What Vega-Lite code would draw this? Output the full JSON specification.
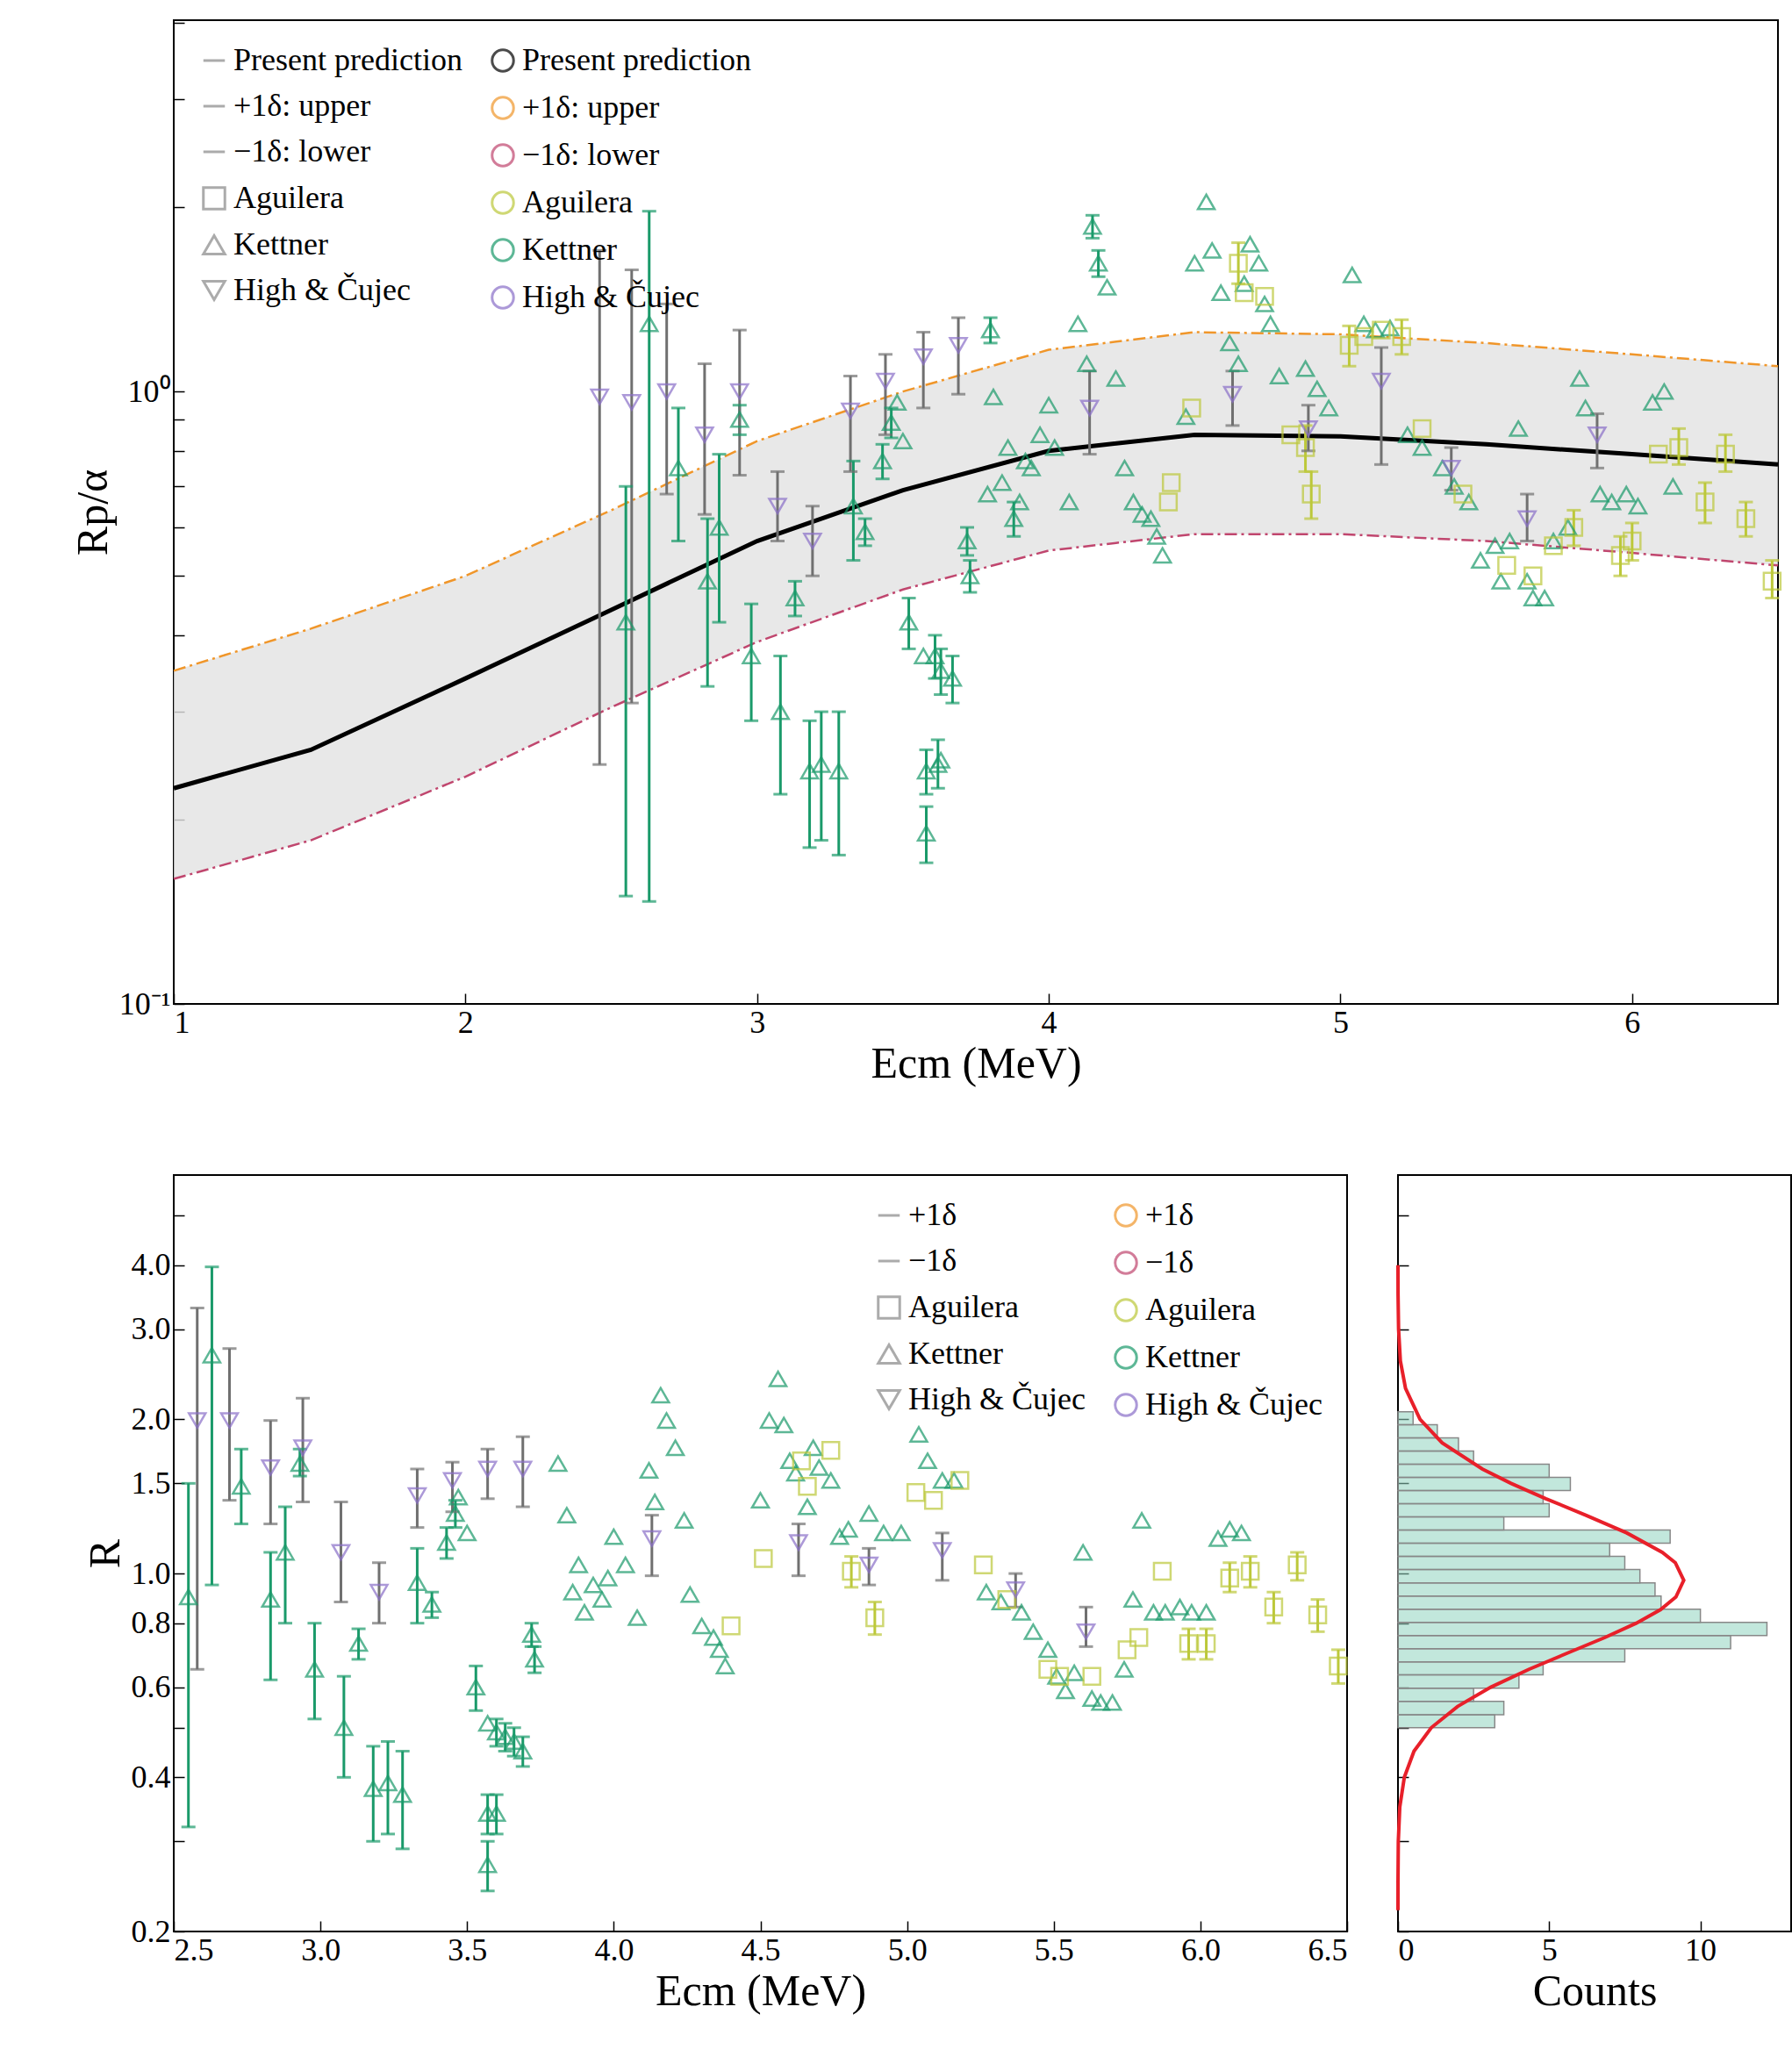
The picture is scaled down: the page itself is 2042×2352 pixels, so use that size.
{
"$schema":"https://vega.github.io/schema/vega-lite/v6.json",
"padding":{"left":80,"top":22,"right":10,"bottom":5},
"config":{"font":"Liberation Serif","view":{"stroke":"black","strokeWidth":2},
"axis":{"grid":false,"domainColor":"black","tickColor":"black","labelColor":"black","titleColor":"black","labelFontSize":36,"titleFontSize":50,"titleFontWeight":"normal","tickSize":-12,"labelPadding":16,"tickWidth":1.5},
"legend":{"labelFontSize":36,"title":null,"symbolStrokeWidth":3,"rowPadding":16,"symbolSize":600,"labelLimit":500,"padding":10}},
"resolve":{"scale":{"color":"independent","shape":"independent"},"legend":{"color":"independent","shape":"independent"}},
"datasets":{
"pred":[{"E":1,"p":0.225,"u":0.35,"l":0.16},{"E":1.47,"p":0.26,"u":0.41,"l":0.185},{"E":2,"p":0.34,"u":0.5,"l":0.235},{"E":2.5,"p":0.44,"u":0.64,"l":0.305},{"E":3,"p":0.57,"u":0.83,"l":0.39},{"E":3.5,"p":0.69,"u":1.0,"l":0.475},{"E":4,"p":0.8,"u":1.17,"l":0.55},{"E":4.5,"p":0.85,"u":1.25,"l":0.585},{"E":5,"p":0.845,"u":1.24,"l":0.585},{"E":5.5,"p":0.82,"u":1.2,"l":0.57},{"E":6,"p":0.79,"u":1.15,"l":0.545},{"E":6.5,"p":0.76,"u":1.1,"l":0.52}],
"apts":[
{"s":"Kettner","E":2.63,"y":1.29,"lo":0.147,"hi":1.97},{"s":"Kettner","E":2.55,"y":0.42,"lo":0.15,"hi":0.7},{"s":"Kettner","E":2.73,"y":0.75,"lo":0.57,"hi":0.94},{"s":"Kettner","E":2.83,"y":0.49,"lo":0.33,"hi":0.62},{"s":"Kettner","E":2.87,"y":0.6,"lo":0.42,"hi":0.79},{"s":"Kettner","E":2.94,"y":0.9,"lo":0.85,"hi":0.95},{"s":"Kettner","E":2.98,"y":0.37,"lo":0.29,"hi":0.45},{"s":"Kettner","E":3.08,"y":0.3,"lo":0.22,"hi":0.37},{"s":"Kettner","E":3.13,"y":0.46,"lo":0.43,"hi":0.49},{"s":"Kettner","E":3.18,"y":0.24,"lo":0.18,"hi":0.29},{"s":"Kettner","E":3.22,"y":0.246,"lo":0.185,"hi":0.3},{"s":"Kettner","E":3.28,"y":0.24,"lo":0.175,"hi":0.3},{"s":"Kettner","E":3.33,"y":0.65,"lo":0.53,"hi":0.77},{"s":"Kettner","E":3.37,"y":0.59,"lo":0.56,"hi":0.62},{"s":"Kettner","E":3.43,"y":0.77,"lo":0.72,"hi":0.82},{"s":"Kettner","E":3.46,"y":0.89,"lo":0.84,"hi":0.94},{"s":"Kettner","E":3.48,"y":0.96},{"s":"Kettner","E":3.5,"y":0.83},{"s":"Kettner","E":3.52,"y":0.42,"lo":0.38,"hi":0.46},{"s":"Kettner","E":3.57,"y":0.37},{"s":"Kettner","E":3.61,"y":0.37,"lo":0.34,"hi":0.4},{"s":"Kettner","E":3.63,"y":0.35,"lo":0.32,"hi":0.38},{"s":"Kettner","E":3.67,"y":0.34,"lo":0.31,"hi":0.37},{"s":"Kettner","E":3.58,"y":0.24,"lo":0.22,"hi":0.26},{"s":"Kettner","E":3.62,"y":0.246,"lo":0.225,"hi":0.27},{"s":"Kettner","E":3.58,"y":0.19,"lo":0.17,"hi":0.21},{"s":"Kettner","E":3.63,"y":0.25},{"s":"Kettner","E":3.72,"y":0.57,"lo":0.54,"hi":0.6},{"s":"Kettner","E":3.73,"y":0.5,"lo":0.47,"hi":0.53},{"s":"Kettner","E":3.79,"y":0.68},{"s":"Kettner","E":3.8,"y":1.26,"lo":1.2,"hi":1.32},{"s":"Kettner","E":3.81,"y":0.98},{"s":"Kettner","E":3.84,"y":0.71},{"s":"Kettner","E":3.86,"y":0.81},{"s":"Kettner","E":3.88,"y":0.62,"lo":0.58,"hi":0.66},{"s":"Kettner","E":3.9,"y":0.66},{"s":"Kettner","E":3.92,"y":0.77},{"s":"Kettner","E":3.94,"y":0.75},{"s":"Kettner","E":3.97,"y":0.85},{"s":"Kettner","E":4.0,"y":0.95},{"s":"Kettner","E":4.02,"y":0.81},{"s":"Kettner","E":4.07,"y":0.66},{"s":"Kettner","E":4.1,"y":1.29},{"s":"Kettner","E":4.13,"y":1.11},{"s":"Kettner","E":4.15,"y":1.86,"lo":1.78,"hi":1.94},{"s":"Kettner","E":4.17,"y":1.62,"lo":1.54,"hi":1.7},{"s":"Kettner","E":4.2,"y":1.48},{"s":"Kettner","E":4.23,"y":1.05},{"s":"Kettner","E":4.26,"y":0.75},{"s":"Kettner","E":4.29,"y":0.66},{"s":"Kettner","E":4.32,"y":0.63},{"s":"Kettner","E":4.35,"y":0.62},{"s":"Kettner","E":4.37,"y":0.58},{"s":"Kettner","E":4.39,"y":0.54},{"s":"Kettner","E":4.47,"y":0.91},{"s":"Kettner","E":4.5,"y":1.62},{"s":"Kettner","E":4.54,"y":2.04},{"s":"Kettner","E":4.56,"y":1.7},{"s":"Kettner","E":4.59,"y":1.45},{"s":"Kettner","E":4.62,"y":1.2},{"s":"Kettner","E":4.65,"y":1.11},{"s":"Kettner","E":4.67,"y":1.5},{"s":"Kettner","E":4.69,"y":1.74},{"s":"Kettner","E":4.72,"y":1.62},{"s":"Kettner","E":4.74,"y":1.39},{"s":"Kettner","E":4.76,"y":1.29},{"s":"Kettner","E":4.79,"y":1.06},{"s":"Kettner","E":4.88,"y":1.09},{"s":"Kettner","E":4.92,"y":1.01},{"s":"Kettner","E":4.96,"y":0.94},{"s":"Kettner","E":5.04,"y":1.55},{"s":"Kettner","E":5.08,"y":1.29},{"s":"Kettner","E":5.12,"y":1.26},{"s":"Kettner","E":5.17,"y":1.27},{"s":"Kettner","E":5.23,"y":0.85},{"s":"Kettner","E":5.28,"y":0.81},{"s":"Kettner","E":5.35,"y":0.75},{"s":"Kettner","E":5.39,"y":0.7},{"s":"Kettner","E":5.44,"y":0.66},{"s":"Kettner","E":5.48,"y":0.53},{"s":"Kettner","E":5.53,"y":0.56},{"s":"Kettner","E":5.55,"y":0.49},{"s":"Kettner","E":5.58,"y":0.57},{"s":"Kettner","E":5.61,"y":0.87},{"s":"Kettner","E":5.64,"y":0.49},{"s":"Kettner","E":5.66,"y":0.46},{"s":"Kettner","E":5.7,"y":0.46},{"s":"Kettner","E":5.73,"y":0.57},{"s":"Kettner","E":5.78,"y":0.6},{"s":"Kettner","E":5.82,"y":1.05},{"s":"Kettner","E":5.84,"y":0.94},{"s":"Kettner","E":5.89,"y":0.68},{"s":"Kettner","E":5.93,"y":0.66},{"s":"Kettner","E":5.98,"y":0.68},{"s":"Kettner","E":6.02,"y":0.65},{"s":"Kettner","E":6.07,"y":0.96},{"s":"Kettner","E":6.11,"y":1.0},{"s":"Kettner","E":6.14,"y":0.7},
{"s":"Aguilera","E":4.41,"y":0.66},{"s":"Aguilera","E":4.42,"y":0.71},{"s":"Aguilera","E":4.49,"y":0.94},{"s":"Aguilera","E":4.65,"y":1.62,"lo":1.5,"hi":1.75},{"s":"Aguilera","E":4.67,"y":1.45},{"s":"Aguilera","E":4.74,"y":1.43},{"s":"Aguilera","E":4.83,"y":0.85},{"s":"Aguilera","E":4.88,"y":0.81,"lo":0.74,"hi":0.88},{"s":"Aguilera","E":4.9,"y":0.68,"lo":0.62,"hi":0.74},{"s":"Aguilera","E":5.03,"y":1.19,"lo":1.1,"hi":1.28},{"s":"Aguilera","E":5.08,"y":1.23},{"s":"Aguilera","E":5.14,"y":1.26},{"s":"Aguilera","E":5.21,"y":1.23,"lo":1.15,"hi":1.31},{"s":"Aguilera","E":5.28,"y":0.87},{"s":"Aguilera","E":5.42,"y":0.68},{"s":"Aguilera","E":5.57,"y":0.52},{"s":"Aguilera","E":5.66,"y":0.5},{"s":"Aguilera","E":5.73,"y":0.56},{"s":"Aguilera","E":5.8,"y":0.6,"lo":0.56,"hi":0.64},{"s":"Aguilera","E":5.96,"y":0.54,"lo":0.5,"hi":0.58},{"s":"Aguilera","E":6.0,"y":0.57,"lo":0.53,"hi":0.61},{"s":"Aguilera","E":6.09,"y":0.79},{"s":"Aguilera","E":6.16,"y":0.81,"lo":0.76,"hi":0.87},{"s":"Aguilera","E":6.25,"y":0.66,"lo":0.61,"hi":0.71},{"s":"Aguilera","E":6.32,"y":0.79,"lo":0.74,"hi":0.85},{"s":"Aguilera","E":6.39,"y":0.62,"lo":0.58,"hi":0.66},{"s":"Aguilera","E":6.48,"y":0.49,"lo":0.46,"hi":0.53},
{"s":"High & Čujec","E":2.46,"y":0.98,"lo":0.246,"hi":1.7},{"s":"High & Čujec","E":2.57,"y":0.96,"lo":0.31,"hi":1.58},{"s":"High & Čujec","E":2.69,"y":1.0,"lo":0.68,"hi":1.39},{"s":"High & Čujec","E":2.82,"y":0.85,"lo":0.63,"hi":1.11},{"s":"High & Čujec","E":2.94,"y":1.0,"lo":0.73,"hi":1.26},{"s":"High & Čujec","E":3.07,"y":0.65,"lo":0.57,"hi":0.74},{"s":"High & Čujec","E":3.19,"y":0.57,"lo":0.5,"hi":0.65},{"s":"High & Čujec","E":3.32,"y":0.93,"lo":0.74,"hi":1.06},{"s":"High & Čujec","E":3.44,"y":1.04,"lo":0.85,"hi":1.15},{"s":"High & Čujec","E":3.57,"y":1.14,"lo":0.94,"hi":1.25},{"s":"High & Čujec","E":3.69,"y":1.19,"lo":0.99,"hi":1.32},{"s":"High & Čujec","E":4.14,"y":0.94,"lo":0.79,"hi":1.08},{"s":"High & Čujec","E":4.63,"y":0.99,"lo":0.88,"hi":1.08},{"s":"High & Čujec","E":4.89,"y":0.87,"lo":0.8,"hi":0.95},{"s":"High & Čujec","E":5.14,"y":1.04,"lo":0.76,"hi":1.18},{"s":"High & Čujec","E":5.38,"y":0.75,"lo":0.69,"hi":0.81},{"s":"High & Čujec","E":5.64,"y":0.62,"lo":0.57,"hi":0.68},{"s":"High & Čujec","E":5.88,"y":0.85,"lo":0.75,"hi":0.92}],
"bpts":[
{"s":"Kettner","E":2.55,"R":0.9,"lo":0.32,"hi":1.5},{"s":"Kettner","E":2.63,"R":2.67,"lo":0.95,"hi":3.97},{"s":"Kettner","E":2.73,"R":1.48,"lo":1.25,"hi":1.75},{"s":"Kettner","E":2.83,"R":0.89,"lo":0.62,"hi":1.1},{"s":"Kettner","E":2.88,"R":1.1,"lo":0.8,"hi":1.35},{"s":"Kettner","E":2.93,"R":1.64,"lo":1.55,"hi":1.75},{"s":"Kettner","E":2.98,"R":0.65,"lo":0.52,"hi":0.8},{"s":"Kettner","E":3.08,"R":0.5,"lo":0.4,"hi":0.63},{"s":"Kettner","E":3.13,"R":0.73,"lo":0.68,"hi":0.78},{"s":"Kettner","E":3.18,"R":0.38,"lo":0.3,"hi":0.46},{"s":"Kettner","E":3.23,"R":0.39,"lo":0.31,"hi":0.47},{"s":"Kettner","E":3.28,"R":0.37,"lo":0.29,"hi":0.45},{"s":"Kettner","E":3.33,"R":0.96,"lo":0.8,"hi":1.12},{"s":"Kettner","E":3.38,"R":0.87,"lo":0.82,"hi":0.92},{"s":"Kettner","E":3.43,"R":1.15,"lo":1.07,"hi":1.23},{"s":"Kettner","E":3.46,"R":1.31,"lo":1.23,"hi":1.39},{"s":"Kettner","E":3.47,"R":1.41},{"s":"Kettner","E":3.5,"R":1.2},{"s":"Kettner","E":3.53,"R":0.6,"lo":0.54,"hi":0.66},{"s":"Kettner","E":3.57,"R":0.51},{"s":"Kettner","E":3.6,"R":0.49,"lo":0.46,"hi":0.52},{"s":"Kettner","E":3.63,"R":0.48,"lo":0.45,"hi":0.51},{"s":"Kettner","E":3.66,"R":0.47,"lo":0.44,"hi":0.5},{"s":"Kettner","E":3.57,"R":0.34,"lo":0.31,"hi":0.37},{"s":"Kettner","E":3.6,"R":0.34,"lo":0.31,"hi":0.37},{"s":"Kettner","E":3.57,"R":0.27,"lo":0.24,"hi":0.3},{"s":"Kettner","E":3.69,"R":0.45,"lo":0.42,"hi":0.48},{"s":"Kettner","E":3.72,"R":0.76,"lo":0.72,"hi":0.8},{"s":"Kettner","E":3.73,"R":0.68,"lo":0.64,"hi":0.72},{"s":"Kettner","E":3.81,"R":1.64},{"s":"Kettner","E":3.84,"R":1.3},{"s":"Kettner","E":3.86,"R":0.92},{"s":"Kettner","E":3.88,"R":1.04},{"s":"Kettner","E":3.9,"R":0.84},{"s":"Kettner","E":3.93,"R":0.95},{"s":"Kettner","E":3.96,"R":0.89},{"s":"Kettner","E":3.98,"R":0.98},{"s":"Kettner","E":4.0,"R":1.18},{"s":"Kettner","E":4.04,"R":1.04},{"s":"Kettner","E":4.08,"R":0.82},{"s":"Kettner","E":4.12,"R":1.59},{"s":"Kettner","E":4.14,"R":1.38},{"s":"Kettner","E":4.16,"R":2.23},{"s":"Kettner","E":4.18,"R":1.99},{"s":"Kettner","E":4.21,"R":1.76},{"s":"Kettner","E":4.24,"R":1.27},{"s":"Kettner","E":4.26,"R":0.91},{"s":"Kettner","E":4.3,"R":0.79},{"s":"Kettner","E":4.34,"R":0.75},{"s":"Kettner","E":4.36,"R":0.71},{"s":"Kettner","E":4.38,"R":0.66},{"s":"Kettner","E":4.5,"R":1.39},{"s":"Kettner","E":4.53,"R":1.99},{"s":"Kettner","E":4.56,"R":2.4},{"s":"Kettner","E":4.58,"R":1.95},{"s":"Kettner","E":4.6,"R":1.66},{"s":"Kettner","E":4.62,"R":1.57},{"s":"Kettner","E":4.66,"R":1.35},{"s":"Kettner","E":4.68,"R":1.76},{"s":"Kettner","E":4.7,"R":1.61},{"s":"Kettner","E":4.74,"R":1.52},{"s":"Kettner","E":4.77,"R":1.18},{"s":"Kettner","E":4.8,"R":1.22},{"s":"Kettner","E":4.87,"R":1.31},{"s":"Kettner","E":4.92,"R":1.2},{"s":"Kettner","E":4.98,"R":1.2},{"s":"Kettner","E":5.04,"R":1.87},{"s":"Kettner","E":5.07,"R":1.66},{"s":"Kettner","E":5.12,"R":1.52},{"s":"Kettner","E":5.16,"R":1.52},{"s":"Kettner","E":5.27,"R":0.92},{"s":"Kettner","E":5.32,"R":0.88},{"s":"Kettner","E":5.39,"R":0.84},{"s":"Kettner","E":5.43,"R":0.77},{"s":"Kettner","E":5.48,"R":0.71},{"s":"Kettner","E":5.51,"R":0.63},{"s":"Kettner","E":5.54,"R":0.59},{"s":"Kettner","E":5.57,"R":0.64},{"s":"Kettner","E":5.6,"R":1.1},{"s":"Kettner","E":5.63,"R":0.57},{"s":"Kettner","E":5.66,"R":0.56},{"s":"Kettner","E":5.7,"R":0.56},{"s":"Kettner","E":5.74,"R":0.65},{"s":"Kettner","E":5.77,"R":0.89},{"s":"Kettner","E":5.8,"R":1.27},{"s":"Kettner","E":5.84,"R":0.84},{"s":"Kettner","E":5.88,"R":0.84},{"s":"Kettner","E":5.93,"R":0.86},{"s":"Kettner","E":5.97,"R":0.84},{"s":"Kettner","E":6.02,"R":0.84},{"s":"Kettner","E":6.06,"R":1.17},{"s":"Kettner","E":6.1,"R":1.22},{"s":"Kettner","E":6.14,"R":1.2},
{"s":"Aguilera","E":4.4,"R":0.79},{"s":"Aguilera","E":4.51,"R":1.07},{"s":"Aguilera","E":4.64,"R":1.66},{"s":"Aguilera","E":4.66,"R":1.48},{"s":"Aguilera","E":4.74,"R":1.74},{"s":"Aguilera","E":4.81,"R":1.01,"lo":0.94,"hi":1.08},{"s":"Aguilera","E":4.89,"R":0.82,"lo":0.76,"hi":0.88},{"s":"Aguilera","E":5.03,"R":1.44},{"s":"Aguilera","E":5.09,"R":1.39},{"s":"Aguilera","E":5.18,"R":1.52},{"s":"Aguilera","E":5.26,"R":1.04},{"s":"Aguilera","E":5.34,"R":0.89},{"s":"Aguilera","E":5.48,"R":0.65},{"s":"Aguilera","E":5.52,"R":0.63},{"s":"Aguilera","E":5.63,"R":0.63},{"s":"Aguilera","E":5.75,"R":0.71},{"s":"Aguilera","E":5.79,"R":0.75},{"s":"Aguilera","E":5.87,"R":1.01},{"s":"Aguilera","E":5.96,"R":0.73,"lo":0.68,"hi":0.78},{"s":"Aguilera","E":6.02,"R":0.73,"lo":0.68,"hi":0.78},{"s":"Aguilera","E":6.1,"R":0.98,"lo":0.92,"hi":1.05},{"s":"Aguilera","E":6.17,"R":1.01,"lo":0.94,"hi":1.08},{"s":"Aguilera","E":6.25,"R":0.86,"lo":0.8,"hi":0.92},{"s":"Aguilera","E":6.33,"R":1.04,"lo":0.97,"hi":1.1},{"s":"Aguilera","E":6.4,"R":0.83,"lo":0.77,"hi":0.89},{"s":"Aguilera","E":6.47,"R":0.66,"lo":0.61,"hi":0.71},
{"s":"High & Čujec","E":2.58,"R":1.99,"lo":0.65,"hi":3.3},{"s":"High & Čujec","E":2.69,"R":1.99,"lo":1.39,"hi":2.75},{"s":"High & Čujec","E":2.83,"R":1.61,"lo":1.25,"hi":1.99},{"s":"High & Čujec","E":2.94,"R":1.76,"lo":1.38,"hi":2.2},{"s":"High & Čujec","E":3.07,"R":1.1,"lo":0.88,"hi":1.38},{"s":"High & Čujec","E":3.2,"R":0.92,"lo":0.8,"hi":1.05},{"s":"High & Čujec","E":3.33,"R":1.42,"lo":1.23,"hi":1.6},{"s":"High & Čujec","E":3.45,"R":1.52,"lo":1.32,"hi":1.65},{"s":"High & Čujec","E":3.57,"R":1.6,"lo":1.4,"hi":1.75},{"s":"High & Čujec","E":3.69,"R":1.6,"lo":1.35,"hi":1.85},{"s":"High & Čujec","E":4.13,"R":1.17,"lo":0.99,"hi":1.3},{"s":"High & Čujec","E":4.63,"R":1.15,"lo":0.99,"hi":1.25},{"s":"High & Čujec","E":4.87,"R":1.04,"lo":0.95,"hi":1.12},{"s":"High & Čujec","E":5.12,"R":1.11,"lo":0.97,"hi":1.2},{"s":"High & Čujec","E":5.37,"R":0.93,"lo":0.86,"hi":1.0},{"s":"High & Čujec","E":5.61,"R":0.77,"lo":0.72,"hi":0.86}],
"hist":[{"lo":0.5,"hi":0.53,"c":3.2},{"lo":0.53,"hi":0.563,"c":3.5},{"lo":0.563,"hi":0.597,"c":2.5},{"lo":0.597,"hi":0.634,"c":4},{"lo":0.634,"hi":0.672,"c":4.8},{"lo":0.672,"hi":0.713,"c":7.5},{"lo":0.713,"hi":0.757,"c":11},{"lo":0.757,"hi":0.803,"c":12.2},{"lo":0.803,"hi":0.852,"c":10},{"lo":0.852,"hi":0.904,"c":8.7},{"lo":0.904,"hi":0.959,"c":8.5},{"lo":0.959,"hi":1.018,"c":8},{"lo":1.018,"hi":1.08,"c":7.5},{"lo":1.08,"hi":1.146,"c":7},{"lo":1.146,"hi":1.216,"c":9},{"lo":1.216,"hi":1.29,"c":3.5},{"lo":1.29,"hi":1.369,"c":5},{"lo":1.369,"hi":1.453,"c":4.8},{"lo":1.453,"hi":1.541,"c":5.7},{"lo":1.541,"hi":1.635,"c":5},{"lo":1.635,"hi":1.735,"c":2.5},{"lo":1.735,"hi":1.841,"c":2},{"lo":1.841,"hi":1.953,"c":1.3},{"lo":1.953,"hi":2.07,"c":0.5}],
"gauss":[{"R":0.22,"c":0},{"R":0.25,"c":0.001},{"R":0.3,"c":0.011},{"R":0.35,"c":0.06},{"R":0.4,"c":0.21},{"R":0.45,"c":0.53},{"R":0.5,"c":1.1},{"R":0.55,"c":1.97},{"R":0.6,"c":3.07},{"R":0.65,"c":4.33},{"R":0.7,"c":5.62},{"R":0.75,"c":6.84},{"R":0.8,"c":7.88},{"R":0.85,"c":8.68},{"R":0.9,"c":9.19},{"R":0.97,"c":9.45},{"R":1.05,"c":9.17},{"R":1.1,"c":8.74},{"R":1.2,"c":7.57},{"R":1.3,"c":6.21},{"R":1.4,"c":4.89},{"R":1.5,"c":3.74},{"R":1.6,"c":2.79},{"R":1.8,"c":1.46},{"R":2.0,"c":0.73},{"R":2.3,"c":0.25},{"R":2.6,"c":0.08},{"R":3.0,"c":0.02},{"R":3.5,"c":0.003},{"R":4.0,"c":0}]
},
"vconcat":[
{"width":1828,"height":1121,
"resolve":{"scale":{"color":"independent"}},
"layer":[
{"data":{"name":"pred"},"mark":{"type":"area","color":"#e2e2e2","opacity":0.8},"encoding":{"x":{"field":"E","type":"quantitative","scale":{"domain":[1,6.5],"nice":false,"zero":false},"axis":{"values":[1,2,3,4,5,6],"format":"d","title":"Ecm (MeV)"}},"y":{"field":"l","type":"quantitative","scale":{"type":"log","domain":[0.1,4.04],"nice":false},"axis":{"values":[0.1,0.2,0.3,0.4,0.5,0.6,0.7,0.8,0.9,1,2,3,4],"labelExpr":"datum.value==1?'10⁰':(datum.value==0.1?'10⁻¹':'')","title":"Rp/α"}},"y2":{"field":"u"}}},
{"data":{"name":"pred"},"mark":{"type":"line","color":"#f0962a","strokeWidth":2.5,"strokeDash":[14,5,3,5]},"encoding":{"x":{"field":"E","type":"quantitative"},"y":{"field":"u","type":"quantitative"}}},
{"data":{"name":"pred"},"mark":{"type":"line","color":"#c0466e","strokeWidth":2.5,"strokeDash":[14,5,3,5]},"encoding":{"x":{"field":"E","type":"quantitative"},"y":{"field":"l","type":"quantitative"}}},
{"data":{"name":"pred"},"mark":{"type":"line","color":"black","strokeWidth":5},"encoding":{"x":{"field":"E","type":"quantitative"},"y":{"field":"p","type":"quantitative"}}},
{"data":{"name":"apts"},"mark":{"type":"rule","strokeWidth":3},"encoding":{"x":{"field":"E","type":"quantitative"},"y":{"field":"lo","type":"quantitative"},"y2":{"field":"hi"},"color":{"field":"s","type":"nominal","scale":{"domain":["Aguilera","Kettner","High & Čujec"],"range":["#bcc83a","#1a9a6a","#707070"]},"legend":null}}},
{"data":{"name":"apts"},"mark":{"type":"tick","orient":"horizontal","size":16,"thickness":3},"encoding":{"x":{"field":"E","type":"quantitative"},"y":{"field":"lo","type":"quantitative"},"color":{"field":"s","type":"nominal","scale":{"domain":["Aguilera","Kettner","High & Čujec"],"range":["#bcc83a","#1a9a6a","#707070"]},"legend":null}}},
{"data":{"name":"apts"},"mark":{"type":"tick","orient":"horizontal","size":16,"thickness":3},"encoding":{"x":{"field":"E","type":"quantitative"},"y":{"field":"hi","type":"quantitative"},"color":{"field":"s","type":"nominal","scale":{"domain":["Aguilera","Kettner","High & Čujec"],"range":["#bcc83a","#1a9a6a","#707070"]},"legend":null}}},
{"data":{"name":"apts"},"mark":{"type":"point","filled":false,"strokeWidth":2.5,"size":360},"encoding":{"x":{"field":"E","type":"quantitative"},"y":{"field":"y","type":"quantitative"},
"color":{"field":"s","type":"nominal","scale":{"domain":["Present prediction","+1δ: upper","−1δ: lower","Aguilera","Kettner","High & Čujec"],"range":["black","#f0962a","#c0466e","#bcc83a","#1a9a6a","#8a6fc8"]},"legend":{"orient":"top-left"}},
"shape":{"field":"s","type":"nominal","scale":{"domain":["Present prediction","+1δ: upper","−1δ: lower","Aguilera","Kettner","High & Čujec"],"range":["stroke","stroke","stroke","square","triangle-up","triangle-down"]},"legend":{"orient":"top-left"}}}},
{"mark":{"type":"text","fontSize":50,"fontWeight":"bold","align":"center"},"encoding":{"x":{"datum":6.05},"y":{"datum":0.128},"text":{"value":"(a)"}}}
]},
{"spacing":43,"resolve":{"scale":{"color":"independent","shape":"independent"}},
"hconcat":[
{"width":1337,"height":862,
"resolve":{"scale":{"color":"independent"}},
"layer":[
{"mark":{"type":"rect","color":"#ececec"},"encoding":{"x":{"datum":2.5,"type":"quantitative","scale":{"domain":[2.5,6.5],"nice":false,"zero":false},"axis":{"values":[2.5,3,3.5,4,4.5,5,5.5,6,6.5],"format":".1f","title":"Ecm (MeV)"}},"x2":{"datum":6.5},"y":{"datum":0.69,"type":"quantitative","scale":{"type":"log","domain":[0.2,6],"nice":false},"axis":{"values":[0.2,0.3,0.4,0.5,0.6,0.8,1,1.5,2,3,4,5],"labelExpr":"indexof([0.3,0.5,5],datum.value)>=0?'':format(datum.value,'.1f')","title":"R"}},"y2":{"datum":1.46}}},
{"mark":{"type":"rule","color":"#f0962a","strokeWidth":2.5,"strokeDash":[14,5,3,5]},"encoding":{"y":{"datum":1.46}}},
{"mark":{"type":"rule","color":"#c0466e","strokeWidth":2.5,"strokeDash":[14,5,3,5]},"encoding":{"y":{"datum":0.69}}},
{"mark":{"type":"rule","color":"black","strokeWidth":3},"encoding":{"y":{"datum":1.0}}},
{"mark":{"type":"rule","color":"#999","strokeWidth":2,"strokeDash":[3,5]},"encoding":{"x":{"datum":3.7}}},
{"mark":{"type":"rule","color":"#999","strokeWidth":2,"strokeDash":[3,5]},"encoding":{"x":{"datum":6.4}}},
{"data":{"name":"bpts"},"mark":{"type":"rule","strokeWidth":3},"encoding":{"x":{"field":"E","type":"quantitative"},"y":{"field":"lo","type":"quantitative"},"y2":{"field":"hi"},"color":{"field":"s","type":"nominal","scale":{"domain":["Aguilera","Kettner","High & Čujec"],"range":["#bcc83a","#1a9a6a","#707070"]},"legend":null}}},
{"data":{"name":"bpts"},"mark":{"type":"tick","orient":"horizontal","size":16,"thickness":3},"encoding":{"x":{"field":"E","type":"quantitative"},"y":{"field":"lo","type":"quantitative"},"color":{"field":"s","type":"nominal","scale":{"domain":["Aguilera","Kettner","High & Čujec"],"range":["#bcc83a","#1a9a6a","#707070"]},"legend":null}}},
{"data":{"name":"bpts"},"mark":{"type":"tick","orient":"horizontal","size":16,"thickness":3},"encoding":{"x":{"field":"E","type":"quantitative"},"y":{"field":"hi","type":"quantitative"},"color":{"field":"s","type":"nominal","scale":{"domain":["Aguilera","Kettner","High & Čujec"],"range":["#bcc83a","#1a9a6a","#707070"]},"legend":null}}},
{"data":{"name":"bpts"},"mark":{"type":"point","filled":false,"strokeWidth":2.5,"size":360},"encoding":{"x":{"field":"E","type":"quantitative"},"y":{"field":"R","type":"quantitative"},
"color":{"field":"s","type":"nominal","scale":{"domain":["+1δ","−1δ","Aguilera","Kettner","High & Čujec"],"range":["#f0962a","#c0466e","#bcc83a","#1a9a6a","#8a6fc8"]},"legend":{"orient":"top-right"}},
"shape":{"field":"s","type":"nominal","scale":{"domain":["+1δ","−1δ","Aguilera","Kettner","High & Čujec"],"range":["stroke","stroke","square","triangle-up","triangle-down"]},"legend":{"orient":"top-right"}}}},
{"mark":{"type":"text","fontSize":36,"align":"center"},"encoding":{"x":{"datum":4.35},"y":{"datum":3.5},"text":{"value":"Statistics Range: 3.7 − 6.4 MeV"}}},
{"mark":{"type":"text","fontSize":50,"fontWeight":"bold","align":"center"},"encoding":{"x":{"datum":6.1},"y":{"datum":0.245},"text":{"value":"(b)"}}}
]},
{"width":448,"height":862,
"layer":[
{"data":{"name":"hist"},"mark":{"type":"bar","fill":"#8fd3bf","fillOpacity":0.55,"stroke":"#888","strokeWidth":1.5},"encoding":{"x":{"field":"c","type":"quantitative","scale":{"domain":[0,13],"nice":false},"axis":{"values":[0,5,10],"title":"Counts"}},"x2":{"datum":0},"y":{"field":"lo","type":"quantitative","scale":{"type":"log","domain":[0.2,6],"nice":false},"axis":{"values":[0.2,0.3,0.4,0.5,0.6,0.8,1,1.5,2,3,4,5],"labels":false,"title":null}},"y2":{"field":"hi"}}},
{"data":{"name":"gauss"},"mark":{"type":"line","color":"#e8202a","strokeWidth":4},"encoding":{"x":{"field":"c","type":"quantitative"},"y":{"field":"R","type":"quantitative"},"order":{"field":"R"}}},
{"mark":{"type":"text","fontSize":50,"fontWeight":"bold","align":"center"},"encoding":{"x":{"datum":10.8},"y":{"datum":0.245},"text":{"value":"(c)"}}}
]}
]}
],
"spacing":100
}
